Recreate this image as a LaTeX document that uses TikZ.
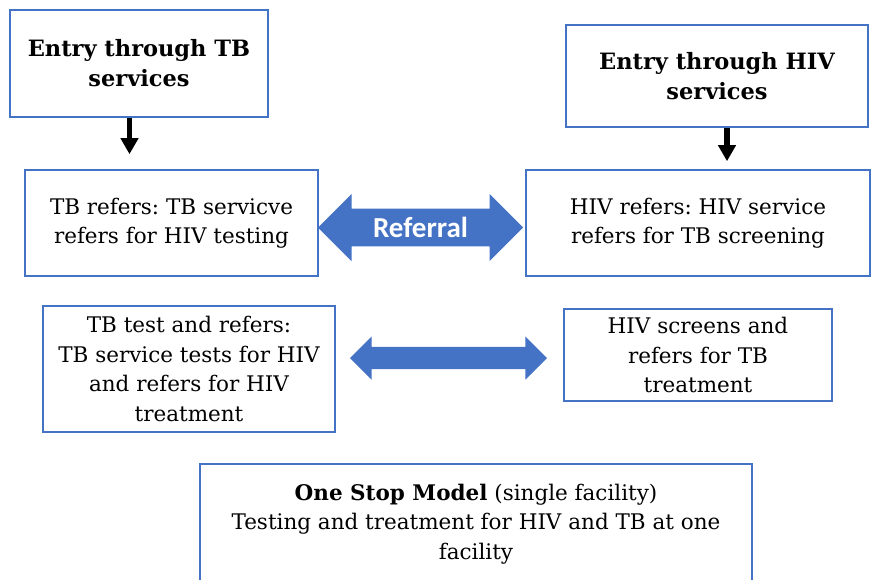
\documentclass[tikz,border=0pt]{standalone}
\usepackage{fontspec}
\setmainfont{DejaVu Serif}
\newfontfamily\arrowfont{Carlito}
\usetikzlibrary{shapes.arrows,arrows.meta,calc}
\definecolor{boxblue}{HTML}{4472C4}
\frenchspacing

\tikzset{
    svcbox/.style={rectangle, draw=boxblue, line width=1.6pt, fill=white, align=center, inner sep=0pt,
        font=\fontsize{21.5}{29.5}\selectfont},
    entrybox/.style={svcbox, font=\fontsize{22.5}{30}\selectfont\bfseries},
    downarrow/.style={-{Triangle[length=16pt,width=17pt]}, line width=5.5pt, black},
    referarrow/.style={double arrow, fill=boxblue, draw=none, inner xsep=0pt, double arrow tip angle=90}
}

\begin{document}
\begin{tikzpicture}[x=1pt,y=-1pt]
    \useasboundingbox (0,0) rectangle (880,579);

    \node[entrybox, minimum width=258, minimum height=107] (tbentry) at (139,63.5) {Entry through TB\\services};
    \node[entrybox, minimum width=302, minimum height=102] (hiventry) at (717,76) {Entry through HIV\\services};

    \node[svcbox, minimum width=293, minimum height=106] (tbref) at (171.5,223) {TB refers: TB servicve\\refers for HIV testing};
    \node[svcbox, minimum width=344, minimum height=106] (hivref) at (698,223) {HIV refers: HIV service\\refers for TB screening};

    \node[svcbox, minimum width=292, minimum height=126] (tbtest) at (189,369) {TB test and refers:\\TB service tests for HIV\\and refers for HIV\\treatment};
    \node[svcbox, minimum width=268, minimum height=92] (hivscreen) at (698,355) {HIV screens and\\refers for TB\\treatment};

    \node[svcbox, minimum width=552, minimum height=120] (onestop) at (476,524) {\textbf{One Stop Model} (single facility)\\Testing and treatment for HIV and TB at one\\facility};

    \draw[downarrow, shorten >=15pt] ([xshift=-9.5pt]tbentry.south) -- ([xshift=-9.5pt]tbentry.south |- tbref.north);
    \draw[downarrow, shorten >=8pt] ([xshift=10pt]hiventry.south) -- ([xshift=10pt]hiventry.south |- hivref.north);

    \node[referarrow, inner ysep=8pt, minimum height=205pt, minimum width=67pt, double arrow head extend=14.5pt,
        text=white, font=\arrowfont\fontsize{29}{30}\selectfont\bfseries] (referral)
        at ($(tbref.east)!0.5!(hivref.west)+(-1.5,4.5)$) {Referral};
    \node[referarrow, inner ysep=11pt, minimum height=197pt, minimum width=43pt, double arrow head extend=10.5pt] (testref)
        at ($(tbtest.east)!0.5!(hivscreen.west)+(-1,-4)$) {};
\end{tikzpicture}
\end{document}
